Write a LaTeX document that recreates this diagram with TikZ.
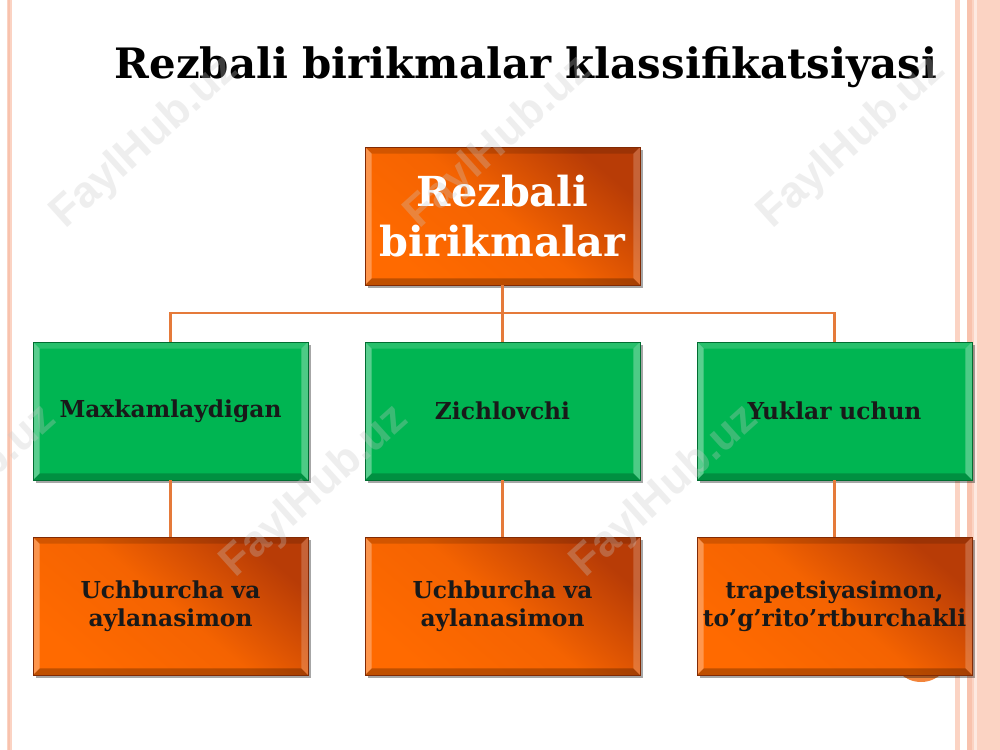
\documentclass[tikz,border=0pt]{standalone}
\usepackage{fontspec}
\setmainfont{DejaVu Serif}
\newfontfamily\wmfont{Liberation Sans}
\usetikzlibrary{shadows,calc}
\definecolor{orgA}{HTML}{FF6A00}
\definecolor{orgB}{HTML}{B83C06}
\definecolor{grn}{HTML}{00B552}
\definecolor{connc}{HTML}{E57A3A}
\definecolor{sideA}{HTML}{FBD3C3}
\definecolor{sideB}{HTML}{F8C2AD}
\definecolor{circc}{HTML}{F2843A}
\definecolor{wmc}{HTML}{C8C8C8}
\tikzset{
  bevelbox/.style n args={4}{path picture={
    \path (path picture bounding box.north west) coordinate (bbnw)
          (path picture bounding box.south east) coordinate (bbse)
          (path picture bounding box.north east) coordinate (bbne)
          (path picture bounding box.south west) coordinate (bbsw);
    \fill[#1] (bbnw) -- (bbsw) -- ([shift={(5pt,5pt)}]bbsw) -- ([shift={(5pt,-5pt)}]bbnw) -- cycle;
    \fill[#2] (bbnw) -- (bbne) -- ([shift={(-5pt,-5pt)}]bbne) -- ([shift={(5pt,-5pt)}]bbnw) -- cycle;
    \fill[#3] (bbne) -- (bbse) -- ([shift={(-5pt,5pt)}]bbse) -- ([shift={(-5pt,-5pt)}]bbne) -- cycle;
    \fill[#4] (bbsw) -- (bbse) -- ([shift={(-5pt,5pt)}]bbse) -- ([shift={(5pt,5pt)}]bbsw) -- cycle;
  }},
  basebox/.style={minimum width=206.25pt, minimum height=103.5pt, inner sep=2pt,
    align=center, text width=200pt,
    drop shadow={shadow xshift=2pt, shadow yshift=-2pt, opacity=0.35, fill=black}},
  obox/.style={basebox, top color=orgB, bottom color=orgA, middle color=orgA!85!orgB, shading angle=-40,
    draw=orgB!70!black, line width=0.6pt,
    bevelbox={white,opacity=0.3}{black,opacity=0.15}{white,opacity=0.2}{black,opacity=0.25},
    font=\bfseries\fontsize{17.5}{21}\selectfont, text=black!90},
  gbox/.style={basebox, fill=grn, draw=grn!60!black, line width=0.6pt,
    bevelbox={white,opacity=0.35}{white,opacity=0.15}{white,opacity=0.3}{black,opacity=0.2},
    font=\bfseries\fontsize{17.5}{21}\selectfont, text=black!90},
  conn/.style={draw=connc, line width=2.2pt},
  wm/.style={rotate=42, font=\wmfont\bfseries\fontsize{33}{33}\selectfont, text=wmc, text opacity=0.3}
}
\begin{document}
\begin{tikzpicture}[x=0.75pt,y=-0.75pt]
\useasboundingbox (0,0) rectangle (1000,750);
\fill[white] (0,0) rectangle (1000,750);
% side decorations
\fill[sideA] (6.5,0) rectangle (11.5,750);
\fill[sideB] (8,0) rectangle (9.5,750);
\fill[sideA] (955,0) rectangle (960,750);
\fill[sideA] (967,0) rectangle (1000,750);
\fill[sideB] (967,0) rectangle (972,750);
\fill[white!50!sideA] (974,0) rectangle (977,750);
% circle behind last box
\fill[circc] (921,652) circle (30);
% title
\node[anchor=base, font=\bfseries\fontsize{31.4}{38}\selectfont] (title) at (526,78) {Rezbali birikmalar klassifikatsiyasi};
% boxes
\node[obox, font=\bfseries\fontsize{31}{37}\selectfont, text=white] (top) at (502.5,216) {Rezbali\\birikmalar};
\node[gbox] (m1) at (170.5,411) {Maxkamlaydigan};
\node[gbox] (m2) at (502.5,411) {Zichlovchi};
\node[gbox] (m3) at (834.5,411) {Yuklar uchun};
\node[obox] (b1) at (170.5,606) {Uchburcha va\\aylanasimon};
\node[obox] (b2) at (502.5,606) {Uchburcha va\\aylanasimon};
\node[obox] (b3) at (834.5,606) {trapetsiyasimon,\\to’g’rito’rtburchakli};
% connectors
\coordinate (bus) at (502.5,313);
\draw[conn] (top.south) -- (bus);
\draw[conn] (bus) -| (m1.north);
\draw[conn] (bus) -| (m3.north);
\draw[conn] (bus) -- (m2.north);
\draw[conn] (m1.south) -- (b1.north);
\draw[conn] (m2.south) -- (b2.north);
\draw[conn] (m3.south) -- (b3.north);
% watermarks
\node[wm] (w1) at (145,143) {FaylHub.uz};
\node[wm] (w2) at (499,143) {FaylHub.uz};
\node[wm] (w3) at (852,143) {FaylHub.uz};
\node[wm] (w4) at (-37,492) {FaylHub.uz};
\node[wm] (w5) at (315,492) {FaylHub.uz};
\node[wm] (w6) at (665,492) {FaylHub.uz};
\end{tikzpicture}
\end{document}
